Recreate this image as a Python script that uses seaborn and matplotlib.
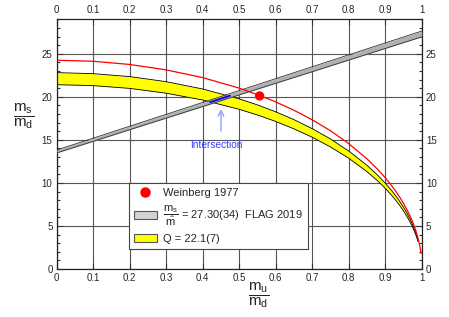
import numpy as np
import pandas as pd
import seaborn as sns
import matplotlib.pyplot as plt
from matplotlib.patches import Patch
from matplotlib.lines import Line2D
from matplotlib.ticker import MultipleLocator

'''
    -> quark mass ratio plane (mu/md vs ms/md)
    -> Q ellipse band, FLAG ms/mhat band, Weinberg 1977 point
'''

mu_md = [0, 0.1, 0.2, 0.3, 0.4, 0.5, 0.55, 0.6, 0.65, 0.7, 0.75, 0.8, 0.85,
         0.88, 0.9, 0.92, 0.93, 0.94, 0.95, 0.96, 0.97, 0.975, 0.98, 0.985, 0.99]
# ms/md on the lower and upper edge of the Q = 22.1(7) band
q_low = [21.41, 21.30, 20.98, 20.42, 19.63, 18.55, 17.89, 17.14, 16.28, 15.31,
         14.18, 12.87, 11.31, 10.21, 9.38, 8.44, 7.92, 7.37, 6.75, 6.07, 5.30,
         4.86, 4.37, 3.82, 3.18]
q_high = [22.81, 22.69, 22.35, 21.76, 20.91, 19.76, 19.06, 18.26, 17.35, 16.30,
          15.11, 13.71, 12.05, 10.87, 9.98, 8.99, 8.44, 7.84, 7.19, 6.46, 5.63,
          5.16, 4.64, 4.06, 3.37]

# red ellipse through the Weinberg point
red_x = [0, 0.1, 0.2, 0.3, 0.4, 0.5, 0.55, 0.6, 0.65, 0.7, 0.75, 0.8, 0.85,
         0.88, 0.9, 0.92, 0.93, 0.94, 0.95, 0.96, 0.97, 0.975, 0.98, 0.985, 0.99,
         0.993, 0.995, 0.997, 0.998]
red_y = [24.25, 24.13, 23.76, 23.13, 22.23, 21.01, 20.26, 19.41, 18.44, 17.33,
         16.06, 14.57, 12.80, 11.55, 10.61, 9.55, 8.96, 8.33, 7.63, 6.86, 5.97,
         5.48, 4.92, 4.30, 3.56, 3.03, 2.62, 2.13, 1.83]

# FLAG 2019 ms/mhat band (straight lines)
flag_x = [0, 1]
flag_low = [13.48, 26.96]
flag_high = [13.82, 27.64]

weinberg_x = [0.556]
weinberg_y = [20.1]

# overlap of the two bands
intersect_x = [0.42, 0.475]
intersect_y = [19.38, 20.13]

x_ticks = [0, 0.1, 0.2, 0.3, 0.4, 0.5, 0.6, 0.7, 0.8, 0.9, 1]
x_labels = ['0', '0.1', '0.2', '0.3', '0.4', '0.5', '0.6', '0.7', '0.8', '0.9', '1']
y_ticks = [0, 5, 10, 15, 20, 25]
y_labels = ['0', '5', '10', '15', '20', '25']

sns.set_style('ticks')
plt.rcParams['font.family'] = ['Liberation Sans', 'DejaVu Sans']
plt.rcParams['mathtext.fontset'] = 'custom'
plt.rcParams['mathtext.rm'] = 'Liberation Sans'
plt.rcParams['mathtext.it'] = 'Liberation Sans'

band_df = pd.DataFrame({'x': mu_md, 'lo': q_low, 'hi': q_high})
red_df = pd.DataFrame({'x': red_x, 'y': red_y})

fig = plt.figure(figsize=(4.49, 3.17), dpi=100)
ax = fig.add_axes([0.1263, 0.1514, 0.8129, 0.7876])

# yellow Q band
ax.fill_between(band_df['x'], band_df['lo'], band_df['hi'], color='#ffff00', lw=0, zorder=2)
sns.lineplot(data=band_df, x='x', y='lo', color='black', lw=0.6, estimator=None, ax=ax, zorder=3)
sns.lineplot(data=band_df, x='x', y='hi', color='black', lw=0.6, estimator=None, ax=ax, zorder=3)

# gray FLAG band
ax.fill_between(flag_x, flag_low, flag_high, color='#b0b0b0', lw=0, zorder=4)
sns.lineplot(x=flag_x, y=flag_low, color='#333333', lw=0.6, ax=ax, zorder=5)
sns.lineplot(x=flag_x, y=flag_high, color='#333333', lw=0.6, ax=ax, zorder=5)

# red ellipse and Weinberg point
sns.lineplot(data=red_df, x='x', y='y', color='red', lw=0.9, estimator=None, ax=ax, zorder=6)
sns.scatterplot(x=weinberg_x, y=weinberg_y, color='red', s=45, edgecolor='none', ax=ax, zorder=7)

# intersection highlight
sns.lineplot(x=intersect_x, y=intersect_y, color='#0000ff', lw=1.3, ax=ax, zorder=6)
ax.annotate('', xy=(0.45, 18.9), xytext=(0.45, 15.7),
            arrowprops=dict(arrowstyle='->', color='#9a9aff', lw=1.0), zorder=6)
ax.text(0.437, 14.4, 'Intersection', color='#3a3aff', ha='center', va='center', fontsize=7.3)

ax.set_xlim(0, 1)
ax.set_ylim(0, 29)
ax.set_xticks(x_ticks)
ax.set_xticklabels(x_labels)
ax.set_yticks(y_ticks)
ax.set_yticklabels(y_labels)
ax.yaxis.set_minor_locator(MultipleLocator(1))
ax.tick_params(which='both', direction='in', top=True, right=True,
               labeltop=True, labelright=True, labelsize=7, width=0.8, color='#333333')
ax.tick_params(which='major', length=4, pad=3)
ax.tick_params(which='minor', length=2.2)
ax.tick_params(axis='x', which='minor', top=False, bottom=False)
ax.grid(True, which='major', color='#555555', lw=0.8, zorder=1)
ax.set_axisbelow(True)
ax.set_xlabel('')
ax.set_ylabel('')
for s in ax.spines.values():
    s.set_linewidth(0.9)
    s.set_color('#222222')

# fraction axis labels
ax.text(-0.091, 17.8, r'$\dfrac{\mathrm{m}_\mathrm{s}}{\mathrm{m}_\mathrm{d}}$', fontsize=11,
        ha='center', va='center', clip_on=False)
ax.text(0.554, -3.1, r'$\dfrac{\mathrm{m}_\mathrm{u}}{\mathrm{m}_\mathrm{d}}$', fontsize=11,
        ha='center', va='center', clip_on=False)

handles = [
    Line2D([], [], marker='o', color='red', ls='none', markersize=6.5),
    Patch(facecolor='#d3d3d3', edgecolor='#555555', lw=0.8),
    Patch(facecolor='#ffff00', edgecolor='#555555', lw=0.8),
]
labels = [
    'Weinberg 1977',
    r'$\dfrac{\mathrm{m}_\mathrm{s}}{\hat{\mathrm{m}}}$ = 27.30(34)  FLAG 2019',
    'Q = 22.1(7)',
]
leg = ax.legend(handles, labels, loc='upper left', bbox_to_anchor=(0.288, 0.4218),
                bbox_transform=fig.transFigure, fontsize=8, fancybox=False, framealpha=1,
                edgecolor='#444444', handlelength=2.0, handletextpad=0.6,
                borderpad=0.45, labelspacing=0.5, borderaxespad=0)
leg.get_frame().set_linewidth(0.8)
leg.set_zorder(10)

fig.savefig('out.png', dpi=100)
